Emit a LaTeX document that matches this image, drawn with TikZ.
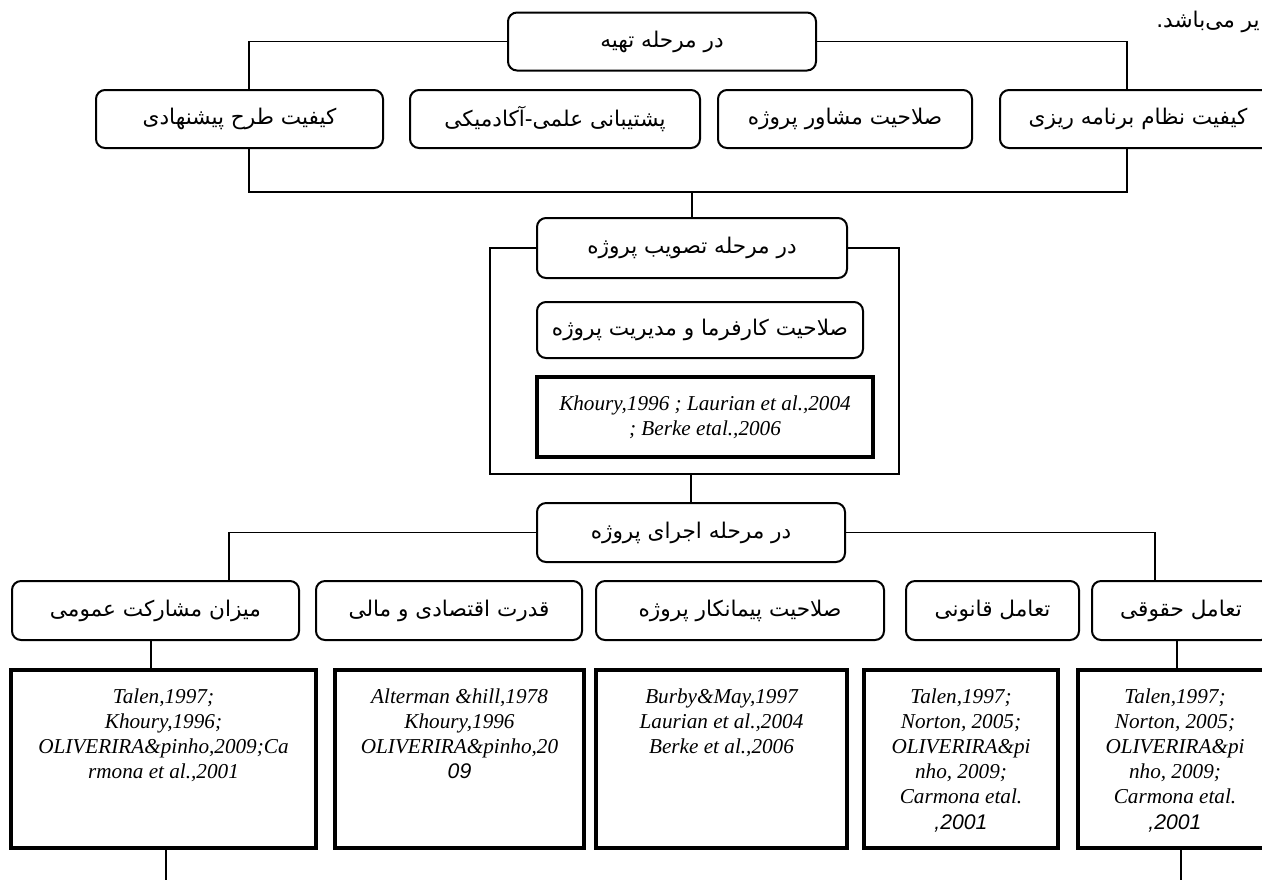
\documentclass[tikz,border=0pt]{standalone}
\usepackage{fontspec}
\setmainfont{Liberation Serif}
\setsansfont{Liberation Sans}
\newfontfamily\fa[Script=Arabic]{DejaVu Sans}
\TeXXeTstate=1
\usetikzlibrary{positioning}
\newcommand{\farsi}[1]{{\fa\beginR #1\endR}}
\newcommand{\refsans}[1]{{\sffamily #1}}

\tikzset{
  stage/.style={draw, line width=1pt, rounded corners=4.5pt, inner sep=0pt,
    minimum height=29pt, font=\fa\fontsize{10.8}{13}\selectfont},
  refbox/.style={draw, line width=2pt, inner sep=0pt},
  reftext/.style={align=center, inner sep=0pt,
    font=\itshape\fontsize{10.6}{12.6}\selectfont},
  link/.style={line width=0.75pt},
}

\begin{document}
\begin{tikzpicture}[x=0.5pt,y=0.5pt,yscale=-1,xscale=1]
\useasboundingbox (0,0) rectangle (1262,880);
\clip (0,0) rectangle (1262,880);

% Text Node
\node[anchor=east, inner sep=0pt, font=\fa\fontsize{10.8}{13}\selectfont] (tail) at (1260,22) {\farsi{یر می‌باشد.}};

%Rounded Rect [stage one]
\node[stage, minimum width=154pt] (prep) at (662,41.5) {\farsi{در مرحله تهیه}};
\node[stage, minimum width=143.5pt] (proposal) at (239.5,119) {\farsi{کیفیت طرح پیشنهادی}};
\node[stage, minimum width=145pt] (academic) at (555,119) {\farsi{پشتیبانی علمی-آکادمیکی}};
\node[stage, minimum width=127pt] (consultant) at (845,119) {\farsi{صلاحیت مشاور پروژه}};
\node[stage, minimum width=138pt] (program) at (1138,119) {\farsi{کیفیت نظام برنامه ریزی}};

%Straight Lines [stage one]
\coordinate (busL) at (249,192);
\coordinate (busR) at (1127,192);
\draw[link] (prep.west) -| (proposal.north -| busL);
\draw[link] (prep.east) -| (program.north -| busR);
\draw[link] (proposal.south -| busL) -- (busL) -- (busR) -- (program.south -| busR);

%Rounded Rect [stage two]
\node[stage, minimum width=155pt, minimum height=30pt] (approval) at (692,248) {\farsi{در مرحله تصویب پروژه}};
\node[stage, minimum width=163pt, minimum height=28pt] (employer) at (700,330) {\farsi{صلاحیت کارفرما و مدیریت پروژه}};
\node[refbox, minimum width=168pt, minimum height=40pt, reftext] (refemployer) at (705,417)
  {Khoury,1996 ; Laurian et al.,2004\\ ; Berke etal.,2006};

%Straight Lines [stage two]
\coordinate (frameSW) at (490,474);
\coordinate (frameSE) at (899,474);
\draw[link] (approval.north) -- (approval.north |- busL);
\draw[link] (approval.west) -| (frameSW) -- (frameSE) |- (approval.east);

%Rounded Rect [stage three]
\node[stage, minimum width=154pt, minimum height=29.5pt] (execution) at (691,532.5) {\farsi{در مرحله اجرای پروژه}};
\node[stage, minimum width=143.5pt, minimum height=29.5pt] (public) at (155.5,610.5) {\farsi{میزان مشارکت عمومی}};
\node[stage, minimum width=133pt, minimum height=29.5pt] (finance) at (449,610.5) {\farsi{قدرت اقتصادی و مالی}};
\node[stage, minimum width=144pt, minimum height=29.5pt] (contractor) at (740,610.5) {\farsi{صلاحیت پیمانکار پروژه}};
\node[stage, minimum width=86.5pt, minimum height=29.5pt] (law) at (992.5,610.5) {\farsi{تعامل قانونی}};
\node[stage, minimum width=89pt, minimum height=29.5pt] (legal) at (1181,610.5) {\farsi{تعامل حقوقی}};

%Straight Lines [stage three]
\coordinate (tapL) at (151,0);
\coordinate (tapR) at (1177,0);
\coordinate (outL) at (166,880);
\coordinate (outR) at (1181,880);
\draw[link] (execution.north) -- (execution.north |- frameSW);
\draw[link] (execution.west) -| ([xshift=36.75pt]public.north);
\draw[link] (execution.east) -| ([xshift=-13pt]legal.north);

%Shape: Rectangle [references]
\node[refbox, minimum width=152.5pt, minimum height=89pt] (refpublic) at (163.5,759) {};
\node[refbox, minimum width=124.5pt, minimum height=89pt] (reffinance) at (459.5,759) {};
\node[refbox, minimum width=125.5pt, minimum height=89pt] (refcontractor) at (721.5,759) {};
\node[refbox, minimum width=97pt, minimum height=89pt] (reflaw) at (961,759) {};
\node[refbox, minimum width=97pt, minimum height=89pt] (reflegal) at (1175,759) {};

% Text Node
\node[reftext, below=10pt of refpublic.north] (tpublic)
  {Talen,1997;\\ Khoury,1996;\\ OLIVERIRA\&pinho,2009;Ca\\ rmona et al.,2001};
\node[reftext, below=10pt of reffinance.north] (tfinance)
  {Alterman \&hill,1978\\ Khoury,1996\\ OLIVERIRA\&pinho,20\\ \refsans{09}};
\node[reftext, below=10pt of refcontractor.north] (tcontractor)
  {Burby\&May,1997\\ Laurian et al.,2004\\ Berke et al.,2006};
\node[reftext, below=10pt of reflaw.north] (tlaw)
  {Talen,1997;\\ Norton, 2005;\\ OLIVERIRA\&pi\\ nho, 2009;\\ Carmona etal.\\ \refsans{,2001}};
\node[reftext, below=10pt of reflegal.north] (tlegal)
  {Talen,1997;\\ Norton, 2005;\\ OLIVERIRA\&pi\\ nho, 2009;\\ Carmona etal.\\ \refsans{,2001}};

%Straight Lines [references]
\draw[link] (public.south -| tapL) -- (refpublic.north -| tapL);
\draw[link] (legal.south -| tapR) -- (reflegal.north -| tapR);
\draw[link] (refpublic.south -| outL) -- (outL);
\draw[link] (reflegal.south -| outR) -- (outR);
\end{tikzpicture}
\end{document}
